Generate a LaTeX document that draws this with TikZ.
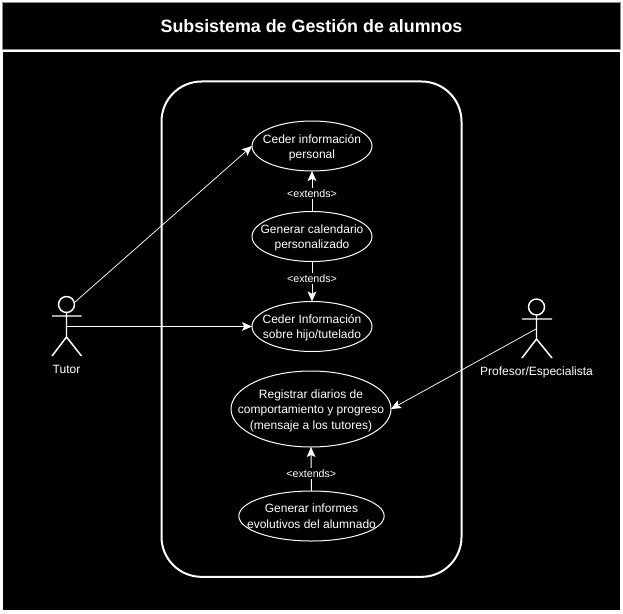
\documentclass[tikz,border=0pt]{standalone}
\usepackage{fontspec}
\setmainfont{Liberation Sans}
\usetikzlibrary{arrows.meta,shapes.geometric}
\newcommand{\topfix}{\rule{0pt}{9pt}}
\tikzset{
  px/.style={x=0.75pt,y=-0.75pt},
  usecase/.style={draw=white,fill=black,ellipse,line width=0.75pt,inner xsep=-18pt,inner ysep=-6pt,outer sep=0pt,text=white,align=center,font=\fontsize{9}{11.6}\selectfont},
  actorline/.style={draw=white,line width=1.1pt},
  assoc/.style={draw=white,line width=0.55pt,-{Stealth[length=7.5pt,width=6.5pt,inset=1.6pt]}},
  ext/.style={draw=white,line width=0.75pt,-{Stealth[length=7.5pt,width=6.5pt,inset=1.6pt]}},
  extlabel/.style={fill=black,text=white,inner sep=1pt,yshift=-0.75pt,font=\fontsize{8}{9}\selectfont},
  alabel/.style={text=white,inner sep=0pt,font=\fontsize{9}{11}\selectfont},
  frame/.style={draw=white!55!black,line width=0.75pt}
}
\begin{document}
\begin{tikzpicture}[px]
\useasboundingbox (0,0) rectangle (623,613);
\fill[white] (0,0) rectangle (623,613);
\node[frame,fill=black,minimum width=463.5pt,minimum height=35.6pt,inner sep=0pt,outer sep=0pt,anchor=north west,text=white,font=\bfseries\fontsize{13.4}{15}\selectfont] (title) at (2.5,2.5) {Subsistema de Gestión de alumnos};
\node[fill=black,minimum width=463pt,minimum height=418.5pt,inner sep=0pt,outer sep=0pt,anchor=north west] (body) at (3,52) {};
\node[draw=white,line width=1.5pt,rounded corners=30pt,minimum width=225pt,minimum height=371.5pt,inner sep=0pt,outer sep=0pt,anchor=north west] (system) at (161.5,81.5) {};
\node[usecase,minimum width=90pt,minimum height=37.5pt] (e1) at (312,146) {\topfix Ceder información\\personal};
\node[usecase,minimum width=90pt,minimum height=37.5pt] (e2) at (312,236.5) {\topfix Generar calendario\\personalizado};
\node[usecase,minimum width=90pt,minimum height=37.5pt] (e3) at (312,326.5) {\topfix Ceder Información\\sobre hijo/tutelado};
\node[usecase,minimum width=120pt,minimum height=57pt] (e4) at (311,409) {\topfix Registrar diarios de\\comportamiento y progreso\\(mensaje a los tutores)};
\node[usecase,minimum width=109pt,minimum height=37.5pt] (e5) at (311.5,516) {Generar informes\\evolutivos del alumnado};
% actors
\node[draw=white,line width=1.1pt,circle,minimum size=12pt,inner sep=0pt] (tutorhead) at (66.5,304.5) {};
\coordinate (tutorhip) at (66.5,337);
\coordinate (tutorwaist) at (67,326.5);
\draw[actorline] (tutorhead.south) -- (tutorhip) -- (52,356) (tutorhip) -- (81.5,356) (52,316) -- (81.5,316);
\node[alabel] (tutorlabel) at (66.5,369.5) {Tutor};
\node[draw=white,line width=1.1pt,circle,minimum size=12pt,inner sep=0pt] (profhead) at (536.5,307) {};
\coordinate (profhip) at (536.5,339);
\coordinate (profwaist) at (536,329);
\draw[actorline] (profhead.south) -- (profhip) -- (522,358) (profhip) -- (552,358) (522,319) -- (552,319);
\node[alabel] (proflabel) at (536.5,372.5) {Profesor/Especialista};
% connectors
\coordinate (tutorneck) at (75,302);
\draw[assoc] (tutorneck) -- (e1.west);
\draw[assoc] (tutorwaist) -- (e3.west);
\draw[assoc] (profwaist) -- (e4.east);
\draw[ext] (e2.north) -- node[extlabel,pos=0.47] {<extends>} (e1.south);
\draw[ext] (e2.south) -- node[extlabel,pos=0.4] {<extends>} (e3.north);
\draw[ext] (e5.north) -- node[extlabel,pos=0.42] {<extends>} (e4.south);
\end{tikzpicture}
\end{document}
